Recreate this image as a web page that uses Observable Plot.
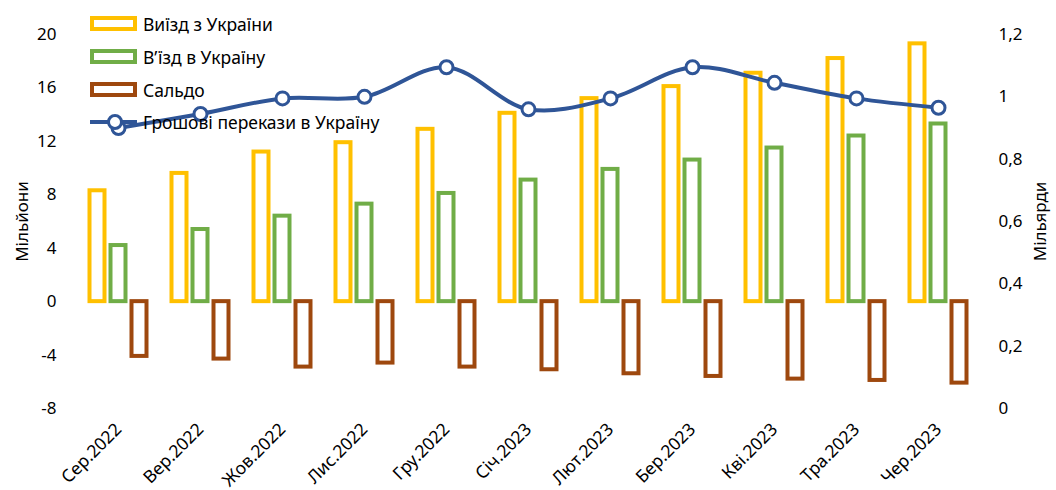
<!DOCTYPE html>
<html><head><meta charset="utf-8">
<script src="https://cdn.jsdelivr.net/npm/d3@7"></script>
<script src="https://cdn.jsdelivr.net/npm/@observablehq/plot@0.6"></script>
<style>
body{margin:0;background:#fff;}
#wrap{position:relative;width:1056px;height:490px;font-family:"Noto Sans",sans-serif;color:#000;}
#legend{position:absolute;left:90px;top:8px;}
.item{display:flex;align-items:center;height:32.7px;font-size:17.5px;white-space:nowrap;}
.item svg{margin-right:6px;overflow:visible;}
</style></head><body>
<div id="wrap"><div id="chart"></div><div id="legend"></div></div>
<script>
const months = ["Сер.2022","Вер.2022","Жов.2022","Лис.2022","Гру.2022","Січ.2023","Лют.2023","Бер.2023","Кві.2023","Тра.2023","Чер.2023"];
const exitVals  = [8.3, 9.6, 11.2, 11.9, 12.9, 14.1, 15.2, 16.1, 17.1, 18.2, 19.3];
const entryVals = [4.2, 5.4, 6.4, 7.3, 8.1, 9.1, 9.9, 10.6, 11.5, 12.4, 13.3];
const saldoVals = [-4.1, -4.3, -4.9, -4.6, -4.9, -5.1, -5.4, -5.6, -5.8, -5.9, -6.1];
const remitVals = [0.90, 0.945, 0.995, 1.0, 1.095, 0.96, 0.995, 1.095, 1.045, 0.995, 0.965];
const leftTicks = [-8, -4, 0, 4, 8, 12, 16, 20];
const rightTicks = [0, 0.2, 0.4, 0.6, 0.8, 1, 1.2];
const seriesNames = ["Виїзд з України", "В’їзд в Україну", "Сальдо", "Грошові перекази в Україну"];
const colors = ["#FFC000", "#70AD47", "#9E480E", "#2F5597"];

const leftDomain = [-8, 20], rightDomain = [0, 1.2];
const toLeft = v => leftDomain[0] + (v - rightDomain[0]) / (rightDomain[1] - rightDomain[0]) * (leftDomain[1] - leftDomain[0]);
const toRight = d => rightDomain[0] + (d - leftDomain[0]) / (leftDomain[1] - leftDomain[0]) * (rightDomain[1] - rightDomain[0]);
const fmt = v => String(Math.round(v * 10) / 10).replace(".", ",");

const rows = months.map((m, i) => ({month: m, exit: exitVals[i], entry: entryVals[i], saldo: saldoVals[i], remit: toLeft(remitVals[i])}));

const barOpts = {x: "month", insetLeft: 33.5, insetRight: 33.5, fill: "white", strokeWidth: 4};
const chart = Plot.plot({
  width: 1056, height: 490,
  marginTop: 34, marginBottom: 82, marginLeft: 77, marginRight: 77,
  style: {fontFamily: '"Noto Sans", sans-serif', fontSize: "17px", color: "#000", background: "#fff"},
  x: {domain: months, padding: 0, axis: null},
  y: {domain: leftDomain, axis: null},
  marks: [
    Plot.barY(rows, {...barOpts, y: "exit", dx: -21, stroke: colors[0]}),
    Plot.barY(rows, {...barOpts, y: "entry", dx: 0, stroke: colors[1]}),
    Plot.barY(rows, {...barOpts, y: "saldo", dx: 21, stroke: colors[2]}),
    Plot.axisX({tickRotate: -45, tickSize: 0, tickPadding: 18, label: null, fontSize: 17.5}),
    Plot.axisY({anchor: "left", ticks: leftTicks, tickFormat: d => String(d), tickSize: 0, tickPadding: 21, label: "Мільйони", labelArrow: "none", labelAnchor: "center", labelOffset: 62, fontSize: 17}),
    Plot.axisY({anchor: "right", ticks: rightTicks.map(toLeft), tickFormat: d => fmt(toRight(d)), tickSize: 0, tickPadding: 19, label: "Мільярди", labelArrow: "none", labelAnchor: "center", labelOffset: 66, fontSize: 17}),
    Plot.line(rows, {x: "month", y: "remit", curve: "catmull-rom", stroke: colors[3], strokeWidth: 4}),
    Plot.dot(rows, {x: "month", y: "remit", r: 6.5, fill: "white", stroke: colors[3], strokeWidth: 3})
  ]
});
document.getElementById("chart").appendChild(chart);

const legend = document.getElementById("legend");
seriesNames.forEach((name, i) => {
  const div = document.createElement("div");
  div.className = "item";
  const sw = i < 3
    ? `<svg width="47" height="16"><rect x="2" y="2" width="43" height="11" fill="white" stroke="${colors[i]}" stroke-width="4"/></svg>`
    : `<svg width="47" height="16"><line x1="0" x2="47" y1="8" y2="8" stroke="${colors[i]}" stroke-width="4"/><circle cx="25" cy="8" r="6.5" fill="white" stroke="${colors[i]}" stroke-width="3"/></svg>`;
  div.innerHTML = sw + `<span>${name}</span>`;
  legend.appendChild(div);
});
</script>
</body></html>
